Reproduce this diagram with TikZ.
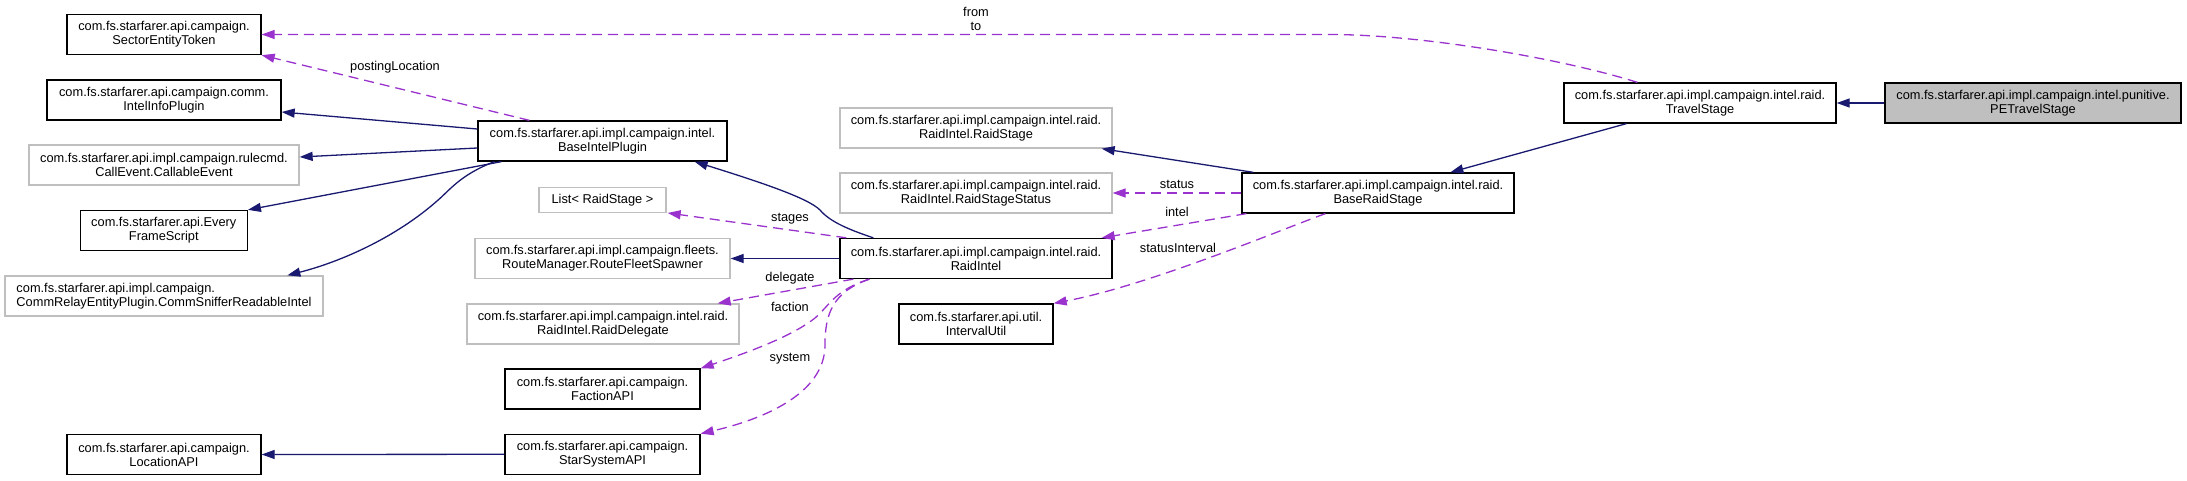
\documentclass[tikz,border=0pt]{standalone}
\usepackage{fontspec}
\setmainfont{Liberation Sans}
\usetikzlibrary{arrows.meta,calc}
\definecolor{navy}{HTML}{191970}
\definecolor{purp}{HTML}{9A32CD}
\definecolor{grayb}{HTML}{BFBFBF}
\newcommand{\dfont}{\fontsize{12.8}{14}\selectfont}
\tikzset{
  box/.style={draw=black, line width=1.3pt, inner sep=0pt, minimum height=40pt, align=center, font=\dfont},
  gbox/.style={box, draw=grayb},
  inh/.style={draw=navy, line width=1.3pt, -{Triangle[length=13pt,width=9pt]}},
  dep/.style={draw=purp, line width=1.3pt, dash pattern=on 10pt off 6pt, -{Triangle[length=13pt,width=9pt]}},
  lbl/.style={font=\dfont, inner sep=0pt, align=center}
}
\begin{document}
\begin{tikzpicture}[x=1pt,y=-1pt]
\useasboundingbox (0,0) rectangle (2187,481);
% nodes
\node[box, minimum width=194pt] (SET) at (164,34.5) {com.fs.starfarer.api.campaign.\\SectorEntityToken};
\node[box, minimum width=234pt] (IIP) at (164,100) {com.fs.starfarer.api.campaign.comm.\\IntelInfoPlugin};
\node[gbox, minimum width=270pt] (CE) at (164,165) {com.fs.starfarer.api.impl.campaign.rulecmd.\\CallEvent.CallableEvent};
\node[box, minimum width=167pt] (EFS) at (163.8,230.5) {com.fs.starfarer.api.Every\\FrameScript};
\node[gbox, minimum width=318pt, align=left] (CSRI) at (164,296) {com.fs.starfarer.api.impl.campaign.\\CommRelayEntityPlugin.CommSnifferReadableIntel};
\node[box, minimum width=194pt] (LAPI) at (164,454.5) {com.fs.starfarer.api.campaign.\\LocationAPI};
\node[box, minimum width=249pt] (BIP) at (602.5,141) {com.fs.starfarer.api.impl.campaign.intel.\\BaseIntelPlugin};
\node[gbox, minimum width=127pt, minimum height=25pt] (LRS) at (602.5,199.8) {List< RaidStage >};
\node[gbox, minimum width=255pt] (RFS) at (602.5,258.5) {com.fs.starfarer.api.impl.campaign.fleets.\\RouteManager.RouteFleetSpawner};
\node[gbox, minimum width=272pt] (RD) at (603,324) {com.fs.starfarer.api.impl.campaign.intel.raid.\\RaidIntel.RaidDelegate};
\node[box, minimum width=195pt] (FAPI) at (602.5,389) {com.fs.starfarer.api.campaign.\\FactionAPI};
\node[box, minimum width=195pt] (SSAPI) at (602.5,454.3) {com.fs.starfarer.api.campaign.\\StarSystemAPI};
\node[gbox, minimum width=272pt] (RS) at (976,128) {com.fs.starfarer.api.impl.campaign.intel.raid.\\RaidIntel.RaidStage};
\node[gbox, minimum width=272pt] (RSS) at (976,193) {com.fs.starfarer.api.impl.campaign.intel.raid.\\RaidIntel.RaidStageStatus};
\node[box, minimum width=272pt] (RI) at (976,258.5) {com.fs.starfarer.api.impl.campaign.intel.raid.\\RaidIntel};
\node[box, minimum width=154pt] (IU) at (976,324) {com.fs.starfarer.api.util.\\IntervalUtil};
\node[box, minimum width=272pt] (BRS) at (1378,193) {com.fs.starfarer.api.impl.campaign.intel.raid.\\BaseRaidStage};
\node[box, minimum width=272pt] (TS) at (1700,103) {com.fs.starfarer.api.impl.campaign.intel.raid.\\TravelStage};
\node[box, minimum width=296pt, fill=grayb] (PETS) at (2033,103) {com.fs.starfarer.api.impl.campaign.intel.punitive.\\PETravelStage};
% connectors
\draw[dep] ($(TS.north west)+(74,0)$) .. controls (1560,58) and (1420,34.5) .. (1330,34.5) -- (SET.east);
\node[lbl] (Lfromto) at (976,19) {from\\to};
\draw[dep] ($(BIP.north west)+(52,0)$) -- (SET.south east);
\node[lbl] (Lposting) at (395,67) {postingLocation};
\draw[inh] ($(BIP.west)+(0,-12)$) -- ($(IIP.east)+(0,12)$);
\draw[inh] ($(BIP.west)+(0,7)$) -- ($(CE.east)+(0,-8)$);
\draw[inh] ($(BIP.south west)+(24,0)$) -- (EFS.north east);
\draw[inh] ($(BIP.south west)+(17,0)$) .. controls (460,175) and (450,190) .. (437,201) .. controls (395,238) and (340,262) .. ($(CSRI.north west)+(283,0)$);
\draw[inh] ($(RI.north west)+(34,0)$) .. controls (850,230) and (830,222) .. (820,210) .. controls (808,198) and (760,182) .. ($(BIP.south east)+(-33,0)$);
\draw[dep] ($(RI.north west)+(7,0)$) -- ($(LRS.south east)+(1,0)$);
\node[lbl] (Lstages) at (790,219) {stages};
\draw[inh] (RI.west) -- (RFS.east);
\draw[dep] ($(RI.south west)+(14,0)$) -- ($(RD.north east)+(-22,0)$);
\node[lbl] (Ldelegate) at (790,278) {delegate};
\draw[dep] ($(RI.south west)+(30,0)$) .. controls (835,290) and (830,305) .. (815,318) .. controls (790,338) and (740,355) .. (FAPI.north east);
\node[lbl] (Lfaction) at (790,307) {faction};
\draw[dep] ($(RI.south west)+(30,0)$) .. controls (832,292) and (825,315) .. (825,345) .. controls (825,395) and (760,420) .. (SSAPI.north east);
\node[lbl] (Lsystem) at (790,359) {system};
\draw[inh] (SSAPI.west) -- (LAPI.east);
\draw[inh] ($(BRS.north west)+(12,0)$) -- ($(RS.south east)+(-11,0)$);
\draw[dep] (BRS.west) -- (RSS.east);
\node[lbl] (Lstatus) at (1177,184) {status};
\draw[dep] ($(BRS.south west)+(5,0)$) -- ($(RI.north east)+(-11,0)$);
\node[lbl] (Lintel) at (1177,212) {intel};
\draw[dep] ($(BRS.south west)+(84,0)$) .. controls (1280,230) and (1150,285) .. (IU.north east);
\node[lbl] (Lstatusint) at (1178,248) {statusInterval};
\draw[inh] ($(TS.south west)+(63,0)$) -- ($(BRS.north west)+(209,0)$);
\draw[inh] (PETS.west) -- (TS.east);
\end{tikzpicture}
\end{document}
